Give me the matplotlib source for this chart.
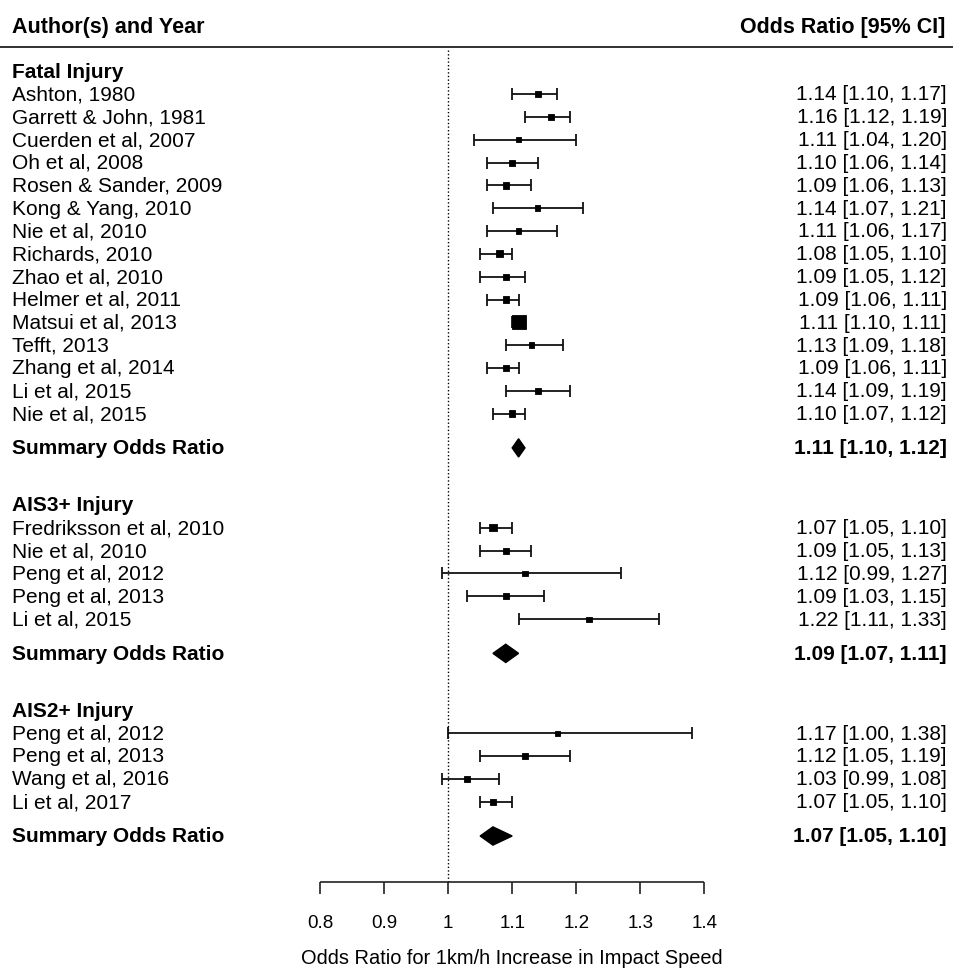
import matplotlib
matplotlib.use('Agg')
import numpy as np
from matplotlib import pyplot as plt
from matplotlib.patches import Polygon

plt.rcParams['font.family'] = ['Liberation Sans', 'DejaVu Sans']

# Fatal injury studies
fatal_studies = ['Ashton, 1980', 'Garrett & John, 1981', 'Cuerden et al, 2007', 'Oh et al, 2008',
                 'Rosen & Sander, 2009', 'Kong & Yang, 2010', 'Nie et al, 2010', 'Richards, 2010',
                 'Zhao et al, 2010', 'Helmer et al, 2011', 'Matsui et al, 2013', 'Tefft, 2013',
                 'Zhang et al, 2014', 'Li et al, 2015', 'Nie et al, 2015']
fatal_or = [1.14, 1.16, 1.11, 1.10, 1.09, 1.14, 1.11, 1.08, 1.09, 1.09, 1.11, 1.13, 1.09, 1.14, 1.10]
fatal_lo = [1.10, 1.12, 1.04, 1.06, 1.06, 1.07, 1.06, 1.05, 1.05, 1.06, 1.10, 1.09, 1.06, 1.09, 1.07]
fatal_hi = [1.17, 1.19, 1.20, 1.14, 1.13, 1.21, 1.17, 1.10, 1.12, 1.11, 1.11, 1.18, 1.11, 1.19, 1.12]
fatal_wt = [6.5, 6.0, 2.5, 5.5, 6.5, 2.8, 3.5, 8.5, 4.5, 7.5, 40.0, 3.0, 7.0, 3.0, 8.0]
fatal_sum = (1.11, 1.10, 1.12)

# AIS3+ studies
ais3_studies = ['Fredriksson et al, 2010', 'Nie et al, 2010', 'Peng et al, 2012', 'Peng et al, 2013',
                'Li et al, 2015']
ais3_or = [1.07, 1.09, 1.12, 1.09, 1.22]
ais3_lo = [1.05, 1.05, 0.99, 1.03, 1.11]
ais3_hi = [1.10, 1.13, 1.27, 1.15, 1.33]
ais3_wt = [11.0, 6.5, 2.0, 4.0, 2.0]
ais3_sum = (1.09, 1.07, 1.11)

# AIS2+ studies
ais2_studies = ['Peng et al, 2012', 'Peng et al, 2013', 'Wang et al, 2016', 'Li et al, 2017']
ais2_or = [1.17, 1.12, 1.03, 1.07]
ais2_lo = [1.00, 1.05, 0.99, 1.05]
ais2_hi = [1.38, 1.19, 1.08, 1.10]
ais2_wt = [1.0, 3.5, 4.0, 7.5]
ais2_sum = (1.07, 1.05, 1.10)

groups = [
    ('Fatal Injury', fatal_studies, fatal_or, fatal_lo, fatal_hi, fatal_wt, fatal_sum, 17),
    ('AIS3+ Injury', ais3_studies, ais3_or, ais3_lo, ais3_hi, ais3_wt, ais3_sum, 8),
    ('AIS2+ Injury', ais2_studies, ais2_or, ais2_lo, ais2_hi, ais2_wt, ais2_sum, 0),
]

xticks = [0.8, 0.9, 1, 1.1, 1.2, 1.3, 1.4]
xtick_labels = ['0.8', '0.9', '1', '1.1', '1.2', '1.3', '1.4']

fig = plt.figure(figsize=(9.54, 9.69), dpi=100)
ax = fig.add_axes([0, 0, 1, 1])
ax.set_xlim(0.3004, 1.7898)
ax.set_ylim(-5.826, 36.62)
ax.axis('off')

all_wt = np.array(fatal_wt + ais3_wt + ais2_wt)
wmin, wmax = all_wt.min(), all_wt.max()

def fmt(v, lo, hi):
    return f'{v:.2f} [{lo:.2f}, {hi:.2f}]'

xl = 12 / 954
xr = 947 / 954
tr = ax.get_yaxis_transform()
base = 0.28  # baseline offset below row centre
fs = 15

for title, studies, est, lo, hi, wt, summ, srow in groups:
    rows = srow + 1.5 + np.arange(len(studies))[::-1]
    est = np.array(est)
    lo = np.array(lo)
    hi = np.array(hi)
    ax.errorbar(est, rows, xerr=[est - lo, hi - est], fmt='none', ecolor='#111111',
                elinewidth=1.3, capsize=4.3, capthick=1.3)
    side = 5.0 + (np.array(wt) - wmin) / (wmax - wmin) * 9.0
    ax.scatter(est, rows, s=(side * 0.72) ** 2, marker='s', color='black',
               edgecolors='black', linewidths=0.6, zorder=3)
    for r, name, e, l, h in zip(rows, studies, est, lo, hi):
        ax.text(xl, r - base, name, transform=tr, fontsize=fs, va='baseline', ha='left')
        ax.text(xr, r - base, fmt(e, l, h), transform=tr, fontsize=fs, va='baseline', ha='right')
    ax.text(xl, rows[0] + 1 - base, title, transform=tr, fontsize=fs, fontweight='bold',
            va='baseline', ha='left')

    # summary diamond
    m, sl, sh = summ
    dh = 0.4
    ax.add_patch(Polygon([(sl, srow), (m, srow + dh), (sh, srow), (m, srow - dh)],
                         closed=True, facecolor='black', edgecolor='black', lw=1.0))
    ax.text(xl, srow - base, 'Summary Odds Ratio', transform=tr, fontsize=fs, fontweight='bold',
            va='baseline', ha='left')
    ax.text(xr, srow - base, fmt(m, sl, sh), transform=tr, fontsize=fs, fontweight='bold',
            va='baseline', ha='right')

# header
hdr_row = 34.56
ax.axhline(hdr_row, color='#222222', lw=1.3)
ax.text(12 / 954, 35.17, 'Author(s) and Year', transform=tr, fontsize=15.5, fontweight='bold',
        va='baseline', ha='left')
ax.text(945 / 954, 35.17, 'Odds Ratio [95% CI]', transform=tr, fontsize=15.5, fontweight='bold',
        va='baseline', ha='right')

# reference line and axis
axis_row = -2.02
ax.vlines(1, axis_row, hdr_row - 0.1, colors='black', lw=1.0, linestyles=(0, (1, 1.6)))
ax.hlines(axis_row, xticks[0], xticks[-1], colors='#222222', lw=1.2)
ax.vlines(xticks, axis_row - 0.5, axis_row, colors='#222222', lw=1.2)
for t, lab in zip(xticks, xtick_labels):
    ax.text(t, -3.82, lab, fontsize=13.5, ha='center', va='center')
ax.text(1.1, -5.35, 'Odds Ratio for 1km/h Increase in Impact Speed', fontsize=14.4,
        ha='center', va='center')

fig.savefig('out.png', dpi=100)
